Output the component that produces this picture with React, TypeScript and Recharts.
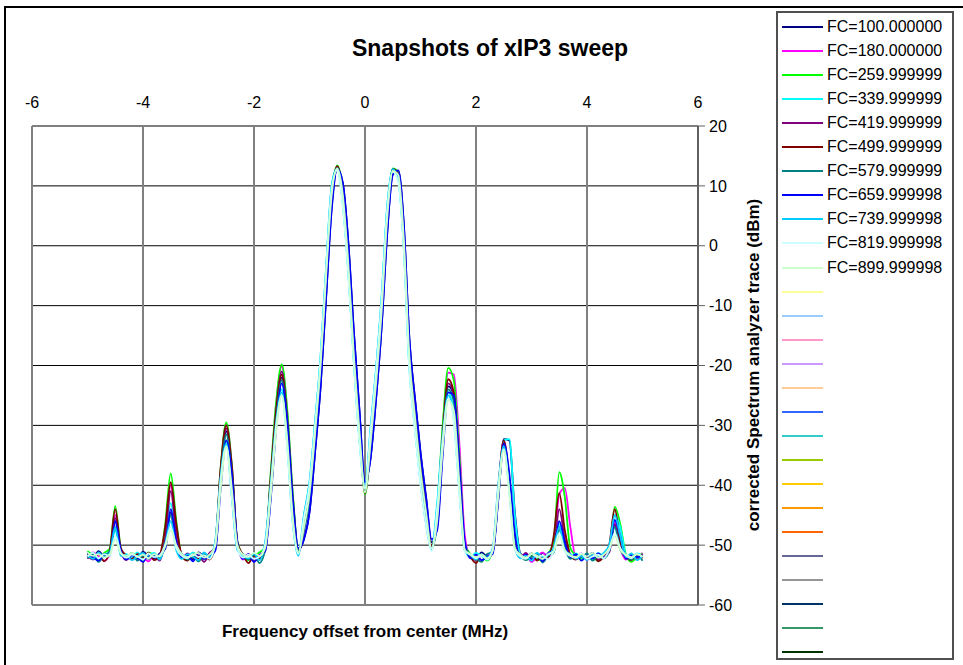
import React from 'react';
import { LineChart, Line, XAxis, YAxis, CartesianGrid, ReferenceLine } from 'recharts';

const FONT = '"Liberation Sans", Arial, sans-serif';

// frequency offset (MHz)
const freqs = [
  -5, -4.9, -4.8, -4.7, -4.6, -4.5, -4.4, -4.3, -4.2, -4.1,
  -4, -3.9, -3.8, -3.7, -3.6, -3.5, -3.4, -3.3, -3.2, -3.1,
  -3, -2.9, -2.8, -2.7, -2.6, -2.5, -2.4, -2.3, -2.2, -2.1,
  -2, -1.9, -1.8, -1.7, -1.6, -1.5, -1.4, -1.3, -1.2, -1.1,
  -1, -0.9, -0.8, -0.7, -0.6, -0.5, -0.4, -0.3, -0.2, -0.1,
  0, 0.1, 0.2, 0.3, 0.4, 0.5, 0.6, 0.7, 0.8, 0.9,
  1, 1.1, 1.2, 1.3, 1.4, 1.5, 1.6, 1.7, 1.8, 1.9,
  2, 2.1, 2.2, 2.3, 2.4, 2.5, 2.6, 2.7, 2.8, 2.9,
  3, 3.1, 3.2, 3.3, 3.4, 3.5, 3.6, 3.7, 3.8, 3.9,
  4, 4.1, 4.2, 4.3, 4.4, 4.5, 4.6, 4.7, 4.8, 4.9,
  5,
];

const fc100 = [
  -51.4, -52.1, -51.0, -51.8, -50.9, -46.0, -51.3, -52.0, -51.5, -52.3,
  -51.1, -51.8, -52.2, -51.4, -50.6, -44.5, -50.2, -52.1, -51.6, -52.4,
  -51.2, -51.9, -51.5, -50.8, -39.5, -31.0, -37.0, -49.5, -51.8, -52.2,
  -51.4, -51.9, -51.0, -42.0, -29.5, -22.0, -28.5, -42.0, -50.8, -49.0,
  -44.5, -34.5, -23.5, -8.5, 6.5, 12.8, 10.5, 0.5, -14.5, -27.5,
  -39.5, -35.5, -25.5, -13.5, 2.0, 12.0, 12.5, 3.5, -15.5, -25.5,
  -34.5, -42.0, -49.5, -47.0, -34.0, -23.5, -25.0, -37.0, -49.8, -51.6,
  -52.3, -51.2, -51.9, -51.0, -42.5, -32.3, -32.5, -44.5, -51.4, -52.0,
  -51.7, -52.5, -51.3, -51.9, -51.2, -47.0, -50.0, -51.8, -52.2, -51.5,
  -52.0, -51.3, -52.4, -51.6, -50.8, -46.5, -50.4, -51.8, -52.3, -51.5,
  -52.0,
];

const fc180 = [
  -52.3, -51.2, -51.9, -52.6, -51.5, -45.0, -50.8, -51.7, -52.4, -51.3,
  -52.0, -52.7, -51.6, -51.9, -48.5, -40.0, -47.5, -51.5, -52.2, -51.8,
  -52.5, -51.4, -52.0, -50.2, -37.5, -29.8, -36.5, -49.5, -52.4, -51.6,
  -52.1, -51.3, -50.6, -38.5, -26.5, -20.2, -28.0, -42.0, -51.2, -47.5,
  -42.0, -32.0, -21.0, -6.0, 8.0, 13.1, 9.0, -2.0, -17.0, -30.0,
  -41.0, -33.0, -23.0, -11.0, 4.0, 12.6, 12.2, 1.5, -18.0, -28.0,
  -37.0, -44.0, -50.2, -44.5, -30.5, -21.2, -21.5, -33.0, -48.5, -52.0,
  -51.4, -52.6, -51.7, -51.2, -41.0, -32.5, -39.0, -49.8, -52.1, -51.5,
  -52.8, -51.9, -51.2, -52.3, -50.5, -41.5, -40.5, -47.0, -52.0, -51.4,
  -52.5, -51.8, -52.2, -51.5, -51.0, -46.0, -50.5, -52.4, -51.6, -52.0,
  -51.3,
];

const fc260 = [
  -51.0, -51.7, -52.4, -51.3, -50.6, -43.5, -50.5, -52.2, -51.4, -51.9,
  -52.6, -51.2, -51.7, -52.0, -46.5, -38.0, -46.0, -51.9, -52.5, -51.3,
  -51.8, -52.3, -51.6, -50.0, -37.0, -29.5, -36.5, -49.3, -51.7, -52.5,
  -51.9, -51.2, -50.4, -38.0, -26.0, -19.8, -27.5, -41.5, -51.0, -47.0,
  -41.5, -31.5, -20.5, -5.5, 8.5, 13.4, 9.5, -1.5, -16.5, -29.5,
  -41.5, -33.5, -23.5, -11.5, 4.0, 12.9, 12.3, 1.8, -17.5, -27.5,
  -37.0, -44.0, -50.5, -44.0, -30.0, -20.4, -22.5, -35.0, -50.0, -51.5,
  -52.2, -51.8, -52.6, -51.0, -41.5, -32.8, -40.0, -50.2, -51.9, -52.4,
  -51.6, -52.1, -52.7, -51.4, -49.5, -37.8, -42.0, -50.5, -51.7, -52.3,
  -51.5, -52.0, -52.6, -51.8, -51.0, -43.6, -46.5, -51.5, -52.8, -52.0,
  -51.4,
];

const fc340 = [
  -52.0, -51.3, -52.5, -51.6, -51.1, -47.5, -51.6, -51.5, -52.1, -51.2,
  -52.4, -51.7, -51.3, -52.2, -49.0, -43.0, -49.5, -51.6, -52.0, -51.2,
  -52.6, -51.5, -51.9, -49.5, -38.5, -32.5, -41.5, -50.5, -51.5, -52.3,
  -51.7, -52.0, -49.8, -40.0, -29.0, -24.0, -33.0, -46.0, -51.5, -45.0,
  -39.5, -29.5, -18.5, -3.5, 10.0, 13.0, 7.0, -4.5, -19.5, -32.5,
  -40.0, -30.5, -20.5, -8.5, 6.5, 12.8, 11.0, -0.5, -20.5, -30.5,
  -39.5, -46.0, -50.5, -43.0, -31.5, -24.5, -28.0, -40.5, -50.8, -52.0,
  -51.3, -51.8, -52.4, -51.0, -41.0, -32.5, -32.3, -45.0, -51.6, -52.2,
  -51.4, -51.9, -52.3, -51.5, -51.2, -46.5, -50.5, -52.0, -51.4, -52.1,
  -51.6, -52.5, -51.3, -51.8, -50.5, -45.0, -47.0, -51.6, -52.2, -51.4,
  -51.9,
];

const fc420 = [
  -51.8, -52.4, -51.5, -52.0, -51.3, -45.5, -51.0, -52.5, -51.6, -52.0,
  -51.4, -52.2, -51.8, -52.6, -49.0, -41.0, -48.5, -52.2, -51.4, -52.0,
  -51.7, -52.8, -51.3, -50.5, -38.0, -30.5, -37.5, -49.8, -52.0, -51.5,
  -52.6, -51.8, -50.6, -39.5, -27.5, -21.0, -29.0, -43.0, -51.0, -47.5,
  -42.0, -32.5, -21.0, -6.0, 8.0, 13.0, 9.0, -2.5, -17.5, -30.5,
  -41.0, -33.0, -23.0, -11.5, 4.0, 12.5, 12.0, 1.5, -18.0, -28.0,
  -37.5, -44.5, -50.3, -46.0, -32.5, -23.0, -25.0, -37.0, -50.3, -51.8,
  -52.5, -51.6, -52.1, -51.3, -41.5, -33.0, -40.0, -50.0, -52.0, -51.3,
  -52.4, -51.7, -52.1, -51.5, -50.8, -44.0, -49.0, -51.9, -52.3, -51.6,
  -52.0, -51.4, -52.5, -51.7, -51.2, -46.5, -50.0, -52.1, -51.7, -52.4,
  -51.5,
];

const fc500 = [
  -51.5, -52.2, -51.4, -52.7, -51.0, -44.0, -50.5, -51.8, -52.3, -51.5,
  -52.1, -51.3, -52.5, -51.7, -47.0, -39.5, -46.5, -51.8, -52.6, -51.5,
  -52.2, -51.6, -52.4, -50.0, -37.0, -30.0, -37.0, -49.5, -51.6, -53.0,
  -51.8, -52.2, -50.5, -39.0, -27.5, -21.5, -29.5, -43.0, -51.3, -47.0,
  -41.5, -31.5, -20.5, -5.5, 8.5, 13.3, 9.0, -2.0, -17.0, -30.0,
  -41.3, -33.0, -23.0, -11.0, 4.5, 12.8, 12.0, 1.5, -17.5, -27.5,
  -37.0, -44.0, -50.0, -45.0, -31.5, -22.3, -24.5, -37.0, -50.5, -52.0,
  -53.0, -51.5, -52.3, -51.0, -40.5, -32.5, -39.5, -50.0, -51.7, -52.2,
  -51.4, -52.6, -51.8, -52.0, -48.5, -41.3, -47.5, -51.6, -52.4, -51.8,
  -52.2, -51.5, -52.7, -51.9, -50.0, -44.0, -49.5, -51.8, -52.5, -51.6,
  -52.2,
];

const fc580 = [
  -52.2, -51.5, -52.8, -51.7, -51.2, -47.0, -51.5, -52.0, -51.3, -52.6,
  -51.8, -52.3, -51.5, -52.0, -50.0, -45.0, -50.2, -51.5, -52.4, -51.9,
  -52.7, -51.6, -52.1, -50.5, -38.5, -31.5, -38.5, -50.0, -51.9, -52.4,
  -51.6, -53.0, -50.8, -40.5, -29.0, -22.5, -30.0, -44.0, -51.0, -47.5,
  -42.5, -32.5, -21.0, -6.5, 7.5, 12.9, 8.5, -2.5, -18.0, -30.5,
  -41.0, -33.5, -23.5, -12.0, 3.5, 12.3, 11.9, 1.0, -18.5, -28.5,
  -37.5, -44.5, -50.5, -46.5, -33.0, -24.0, -26.0, -38.0, -50.5, -51.6,
  -52.2, -52.8, -51.5, -51.2, -42.0, -33.5, -40.5, -50.3, -51.8, -52.5,
  -52.0, -51.4, -52.9, -51.7, -51.0, -47.5, -50.5, -52.3, -51.7, -52.0,
  -51.4, -52.6, -51.9, -52.2, -51.0, -47.0, -50.8, -51.9, -52.4, -51.6,
  -52.6,
];

const fc660 = [
  -51.3, -52.0, -52.6, -51.5, -51.8, -46.0, -50.8, -52.4, -51.7, -52.0,
  -52.8, -51.5, -52.1, -51.6, -50.5, -44.0, -49.5, -52.0, -51.6, -52.7,
  -51.3, -52.3, -51.8, -51.0, -40.5, -32.5, -38.0, -49.5, -52.3, -51.5,
  -52.8, -51.7, -51.0, -42.5, -30.5, -23.0, -29.5, -42.5, -50.5, -49.0,
  -44.5, -34.5, -23.5, -8.5, 6.0, 12.9, 10.5, 0.5, -14.5, -27.5,
  -39.5, -35.5, -25.5, -13.5, 2.0, 11.8, 12.6, 3.5, -15.5, -25.5,
  -34.5, -42.0, -49.0, -47.5, -35.0, -24.5, -25.0, -36.5, -49.5, -52.2,
  -51.6, -52.5, -51.9, -51.5, -42.5, -33.0, -38.0, -48.0, -52.1, -51.6,
  -52.4, -51.8, -52.7, -51.3, -51.0, -46.0, -49.5, -52.0, -51.5, -52.6,
  -51.7, -52.2, -51.4, -52.0, -50.8, -45.8, -48.5, -52.3, -51.6, -52.0,
  -51.8,
];

const fc740 = [
  -51.6, -52.3, -51.2, -52.0, -51.4, -47.0, -51.8, -51.6, -52.5, -51.9,
  -51.3, -52.2, -51.5, -52.4, -49.8, -46.0, -50.8, -52.3, -51.5, -51.9,
  -52.5, -51.2, -52.0, -49.5, -38.5, -33.0, -42.0, -50.8, -51.8, -52.2,
  -51.4, -52.5, -49.5, -40.0, -29.5, -24.5, -33.5, -46.5, -51.8, -45.0,
  -39.5, -29.5, -18.5, -3.5, 10.0, 12.9, 7.0, -4.5, -19.5, -32.5,
  -40.5, -30.5, -20.5, -8.5, 6.5, 12.8, 11.0, -0.5, -20.5, -30.5,
  -39.5, -46.5, -50.8, -43.5, -32.0, -25.0, -29.0, -41.0, -51.0, -51.7,
  -52.4, -51.5, -52.1, -50.5, -40.0, -33.5, -41.0, -50.5, -52.2, -51.8,
  -52.6, -51.3, -52.0, -51.7, -50.5, -47.0, -51.0, -51.5, -52.3, -51.8,
  -52.5, -51.6, -52.0, -51.3, -50.0, -45.0, -48.5, -52.0, -51.4, -52.5,
  -51.8,
];

const fc820 = [
  -51.9, -51.3, -52.2, -51.5, -51.8, -48.5, -51.2, -52.1, -51.6, -51.9,
  -52.4, -51.4, -52.0, -51.7, -50.0, -47.0, -50.5, -51.8, -52.2, -51.5,
  -52.0, -51.7, -52.3, -49.8, -39.0, -33.5, -42.0, -50.5, -52.1, -51.6,
  -52.3, -51.9, -50.0, -40.5, -30.0, -25.0, -34.0, -46.5, -51.5, -45.5,
  -40.0, -30.0, -19.0, -4.0, 9.5, 12.6, 6.5, -5.0, -20.0, -33.0,
  -40.5, -31.0, -21.0, -9.0, 6.0, 12.4, 10.5, -1.0, -21.0, -31.0,
  -40.0, -46.5, -51.0, -44.0, -32.5, -25.5, -29.5, -41.5, -51.0, -51.6,
  -52.2, -51.8, -52.4, -50.8, -40.5, -34.0, -41.5, -50.8, -51.9, -52.3,
  -51.5, -52.0, -51.7, -52.4, -51.0, -48.0, -51.2, -51.8, -52.1, -51.4,
  -52.3, -51.9, -51.6, -52.2, -50.8, -48.0, -50.5, -51.7, -52.2, -51.5,
  -52.0,
];

const fc900 = [
  -51.2, -51.8, -51.5, -52.1, -51.6, -49.0, -51.4, -51.8, -51.3, -52.0,
  -51.6, -52.2, -51.5, -51.9, -50.2, -47.5, -50.0, -51.5, -52.0, -51.7,
  -51.3, -52.1, -51.6, -50.2, -40.5, -33.5, -40.5, -50.0, -51.6, -52.0,
  -51.3, -51.8, -50.5, -42.0, -31.0, -25.0, -32.5, -45.5, -51.2, -47.0,
  -41.5, -31.5, -20.0, -5.0, 8.5, 12.9, 8.5, -3.0, -18.5, -31.0,
  -41.2, -33.0, -23.0, -11.0, 4.5, 12.5, 11.8, 1.0, -18.5, -28.5,
  -37.5, -44.5, -50.5, -46.0, -34.0, -25.8, -27.5, -39.5, -50.8, -51.5,
  -52.0, -51.6, -52.2, -51.0, -42.0, -34.0, -41.0, -50.5, -51.6, -52.1,
  -51.4, -51.8, -52.3, -51.5, -51.0, -48.5, -50.8, -51.7, -52.0, -51.5,
  -51.9, -51.3, -52.1, -51.6, -50.5, -48.5, -50.8, -51.6, -52.0, -51.5,
  -51.9,
];

const seriesNames = [
  'FC=100.000000', 'FC=180.000000', 'FC=259.999999', 'FC=339.999999',
  'FC=419.999999', 'FC=499.999999', 'FC=579.999999', 'FC=659.999998',
  'FC=739.999998', 'FC=819.999998', 'FC=899.999998',
];
const seriesColors = [
  '#000080', '#FF00FF', '#00FF00', '#00FFFF', '#800080', '#800000',
  '#008080', '#0000FF', '#00CCFF', '#CCFFFF', '#CCFFCC',
];
const seriesValues = [fc100, fc180, fc260, fc340, fc420, fc500, fc580, fc660, fc740, fc820, fc900];

// legend rows with no data / no label
const emptyLegendColors = [
  '#FFFF99', '#99CCFF', '#FF99CC', '#CC99FF', '#FFCC99', '#3366FF', '#33CCCC', '#99CC00',
  '#FFCC00', '#FF9900', '#FF6600', '#666699', '#969696', '#003366', '#339966', '#003300',
];

const xTicks = [-6, -4, -2, 0, 2, 4, 6];
const yTicks = [20, 10, 0, -10, -20, -30, -40, -50, -60];

const data = freqs.map((f, i) => {
  const row: Record<string, number> = { f };
  seriesValues.forEach((vals, s) => {
    row[`s${s}`] = vals[i];
  });
  return row;
});

const legendItems = [
  ...seriesNames.map((name, i) => ({ name, color: seriesColors[i] })),
  ...emptyLegendColors.map((color) => ({ name: '', color })),
];

const App: React.FC = () => {
  return (
    <div style={{
      position: 'absolute',
      left: 0,
      top: 0,
      width: 963,
      height: 665,
      overflow: 'hidden',
      background: '#ffffff',
      fontFamily: FONT,
    }}>
      {/* outer chart frame, runs off the right/bottom edge */}
      <div style={{
        position: 'absolute',
        left: 4,
        top: 6,
        width: 1100,
        height: 800,
        border: '2px solid #000',
        boxSizing: 'border-box',
      }} />

      <div style={{ position: 'absolute', left: 0, top: 0 }}>
        <LineChart
          width={963}
          height={665}
          data={data}
          margin={{ top: 96, right: 205, bottom: 60, left: 32 }}
        >
          <CartesianGrid vertical={false} stroke="#000000" strokeWidth={1} />
          <CartesianGrid horizontal={false} stroke="#808080" strokeWidth={2} />
          <XAxis
            type="number"
            dataKey="f"
            orientation="top"
            domain={[-6, 6]}
            ticks={xTicks}
            height={30}
            axisLine={false}
            tickLine={false}
            tickSize={8}
            tickMargin={10}
            tick={{ fill: '#000', fontSize: 16, fontFamily: FONT }}
          />
          <YAxis
            orientation="right"
            domain={[-60, 20]}
            ticks={yTicks}
            width={60}
            axisLine={{ stroke: '#606060', strokeWidth: 2 }}
            tickLine={{ stroke: '#606060', strokeWidth: 1 }}
            tickSize={7}
            tickMargin={4}
            tick={{ fill: '#000', fontSize: 16, fontFamily: FONT }}
          />
          <ReferenceLine y={20} stroke="#808080" strokeWidth={2} />
          <ReferenceLine y={-60} stroke="#808080" strokeWidth={2} />
          <ReferenceLine x={-6} stroke="#808080" strokeWidth={2} />
          {seriesValues.map((_, s) => (
            <Line
              key={s}
              type="monotone"
              dataKey={`s${s}`}
              name={seriesNames[s]}
              stroke={seriesColors[s]}
              strokeWidth={1.8}
              dot={false}
              isAnimationActive={false}
            />
          ))}
        </LineChart>
      </div>

      {/* title and axis titles */}
      <svg width={963} height={665} style={{ position: 'absolute', left: 0, top: 0, pointerEvents: 'none' }}>
        <text x={490} y={56} textAnchor="middle" fontFamily={FONT} fontWeight="bold" fontSize={23} fill="#000">
          Snapshots of xIP3 sweep
        </text>
        <text x={365} y={637} textAnchor="middle" fontFamily={FONT} fontWeight="bold" fontSize={17} fill="#000">
          Frequency offset from center (MHz)
        </text>
        <text
          x={759}
          y={365}
          textAnchor="middle"
          fontFamily={FONT}
          fontWeight="bold"
          fontSize={17}
          fill="#000"
          transform="rotate(-90 759 365)"
        >
          corrected Spectrum analyzer trace (dBm)
        </text>
      </svg>

      {/* legend box */}
      <div style={{
        position: 'absolute',
        left: 776,
        top: 11,
        width: 178,
        height: 649,
        border: '2px solid #505050',
        boxSizing: 'border-box',
        background: '#fff',
      }}>
        {legendItems.map((item, i) => (
          <div key={i} style={{
            position: 'absolute',
            left: 4,
            top: 2 + i * 24.05,
            height: 24,
            display: 'flex',
            alignItems: 'center',
          }}>
            <div style={{ width: 41, height: 2, backgroundColor: item.color }} />
            <span style={{
              marginLeft: 4,
              fontSize: 16,
              color: '#000',
              whiteSpace: 'nowrap',
              lineHeight: '24px',
            }}>{item.name}</span>
          </div>
        ))}
      </div>
    </div>
  );
};

export default App;
